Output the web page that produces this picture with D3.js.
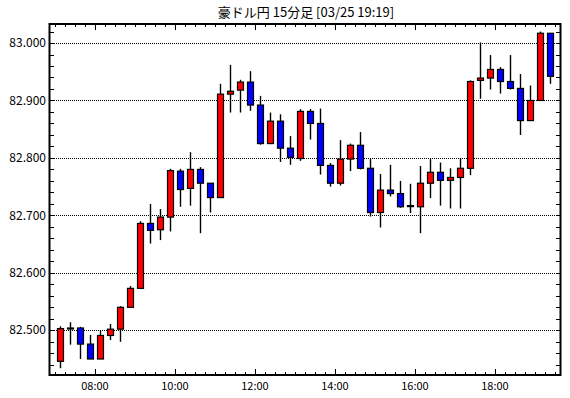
<!DOCTYPE html>
<html>
<head>
<meta charset="utf-8">
<script src="https://cdn.jsdelivr.net/npm/d3@7"></script>
<style>
  html, body { margin: 0; padding: 0; background: #fff; }
  text { font-family: "Noto Sans CJK JP", "DejaVu Sans", sans-serif; fill: #000; }
</style>
</head>
<body>
<svg id="chart" width="570" height="398"></svg>
<script>
const title = "豪ドル円 15分足 [03/25 19:19]";
const times = ["07:00","07:15","07:30","07:45","08:00","08:15","08:30","08:45","09:00","09:15",
  "09:30","09:45","10:00","10:15","10:30","10:45","11:00","11:15","11:30","11:45",
  "12:00","12:15","12:30","12:45","13:00","13:15","13:30","13:45","14:00","14:15",
  "14:30","14:45","15:00","15:15","15:30","15:45","16:00","16:15","16:30","16:45",
  "17:00","17:15","17:30","17:45","18:00","18:15","18:30","18:45","19:00","19:15"];
const open = [82.446,82.504,82.504,82.476,82.450,82.491,82.502,82.540,82.573,82.686,
  82.675,82.697,82.777,82.747,82.780,82.756,82.731,82.911,82.918,82.932,
  82.892,82.825,82.864,82.817,82.799,82.881,82.860,82.787,82.756,82.798,
  82.822,82.782,82.705,82.744,82.738,82.717,82.715,82.756,82.775,82.761,
  82.766,82.782,82.935,82.939,82.954,82.933,82.921,82.865,82.900,83.017];
const high = [82.507,82.514,82.506,82.492,82.500,82.511,82.542,82.577,82.690,82.720,
  82.711,82.781,82.781,82.810,82.784,82.756,82.929,82.962,82.936,82.951,
  82.908,82.879,82.876,82.838,82.885,82.885,82.886,82.791,82.831,82.825,
  82.845,82.798,82.772,82.788,82.760,82.755,82.786,82.798,82.792,82.782,
  82.800,82.935,83.001,82.979,82.958,82.979,82.946,82.926,83.020,83.017];
const low = [82.434,82.475,82.450,82.450,82.450,82.483,82.480,82.540,82.573,82.651,
  82.657,82.672,82.715,82.717,82.669,82.705,82.731,82.879,82.879,82.882,
  82.823,82.824,82.793,82.788,82.795,82.832,82.771,82.750,82.752,82.777,
  82.780,82.698,82.679,82.733,82.713,82.704,82.669,82.730,82.717,82.712,
  82.712,82.770,82.903,82.919,82.912,82.919,82.840,82.865,82.900,82.929];
const close = [82.503,82.504,82.476,82.450,82.491,82.502,82.540,82.573,82.686,82.674,
  82.697,82.778,82.745,82.780,82.756,82.731,82.911,82.916,82.932,82.892,
  82.825,82.864,82.817,82.801,82.881,82.860,82.787,82.756,82.798,82.822,
  82.782,82.705,82.744,82.738,82.715,82.717,82.756,82.775,82.761,82.766,
  82.782,82.933,82.939,82.954,82.933,82.921,82.865,82.900,83.017,82.942];
const yTickValues = [83.0, 82.9, 82.8, 82.7, 82.6, 82.5];
const xTickLabels = ["08:00","10:00","12:00","14:00","16:00","18:00"];

const parse = d3.timeParse("%H:%M");
const candles = times.map((t, i) => ({
  t: new Date(parse(t).getTime() + 7.5 * 60000),
  o: open[i], h: high[i], l: low[i], c: close[i]
}));

const L = 50, R = 560, T = 24, B = 375;
const svg = d3.select("#chart");

const x = d3.scaleTime()
  .domain([parse("06:52"), parse("19:37")].map(d => new Date(d.getTime() + 30000)))
  .range([L, R]);
const y = d3.scaleLinear().domain([82.4222, 83.0331]).range([B, T]);

// title
svg.append("text").attr("x", 306).attr("y", 17).attr("text-anchor", "middle")
  .attr("font-size", 13).text(title);

// grid lines
svg.append("g").selectAll("line").data(yTickValues).join("line")
  .attr("x1", L).attr("x2", R)
  .attr("y1", d => Math.round(y(d)) + 0.5).attr("y2", d => Math.round(y(d)) + 0.5)
  .attr("stroke", "#000").attr("stroke-width", 1).attr("stroke-dasharray", "1,1");

// y labels
svg.append("g").selectAll("text").data(yTickValues).join("text")
  .attr("x", 46).attr("y", d => y(d)).attr("dy", "0.35em")
  .attr("text-anchor", "end").attr("font-size", 12)
  .text(d => d3.format(".3f")(d));

// minor y ticks (left & right)
const yMinor = d3.range(0, 31).map(i => +(82.44 + i * 0.02).toFixed(2)).filter(v => y(v) > T + 2 && y(v) < B - 2);
const gy = svg.append("g");
yMinor.forEach(v => {
  const yy = Math.round(y(v)) + 0.5;
  gy.append("line").attr("x1", L).attr("x2", L + 4).attr("y1", yy).attr("y2", yy).attr("stroke", "#000");
  gy.append("line").attr("x1", R - 4).attr("x2", R).attr("y1", yy).attr("y2", yy).attr("stroke", "#000");
});

// x ticks (top & bottom)
const xTicks = d3.timeMinute.every(15).range(x.domain()[0], x.domain()[1]);
const gx = svg.append("g");
xTicks.forEach(d => {
  const major = d.getMinutes() === 0 && d.getHours() % 2 === 0;
  const len = major ? 6 : 3;
  const xx = Math.round(x(d)) + 0.5;
  gx.append("line").attr("x1", xx).attr("x2", xx).attr("y1", B).attr("y2", B - len).attr("stroke", "#000");
  gx.append("line").attr("x1", xx).attr("x2", xx).attr("y1", T).attr("y2", T + len).attr("stroke", "#000");
});

// x labels
svg.append("g").selectAll("text").data(xTickLabels).join("text")
  .attr("x", d => x(parse(d))).attr("y", 390).attr("text-anchor", "middle")
  .attr("font-size", 11).text(d => d);

// candles
const g = svg.append("g");
g.selectAll("line.wick").data(candles).join("line").attr("class", "wick")
  .attr("x1", d => Math.round(x(d.t)) + 0.5).attr("x2", d => Math.round(x(d.t)) + 0.5)
  .attr("y1", d => y(d.h)).attr("y2", d => y(d.l))
  .attr("stroke", "#000").attr("stroke-width", 1.4);
g.selectAll("rect.body").data(candles).join("rect").attr("class", "body")
  .attr("x", d => Math.round(x(d.t)) - 2.5)
  .attr("width", 6)
  .attr("y", d => y(Math.max(d.o, d.c)))
  .attr("height", d => Math.max(1, Math.abs(y(d.o) - y(d.c))))
  .attr("fill", d => d.c > d.o ? "#ff0000" : (d.c < d.o ? "#0000ff" : "#000"))
  .attr("stroke", "#000").attr("stroke-width", 1.2);

// frame
svg.append("rect").attr("x", L - 0.5).attr("y", T).attr("width", R - L + 1).attr("height", B - T)
  .attr("fill", "none").attr("stroke", "#000").attr("stroke-width", 2);
</script>
</body>
</html>
